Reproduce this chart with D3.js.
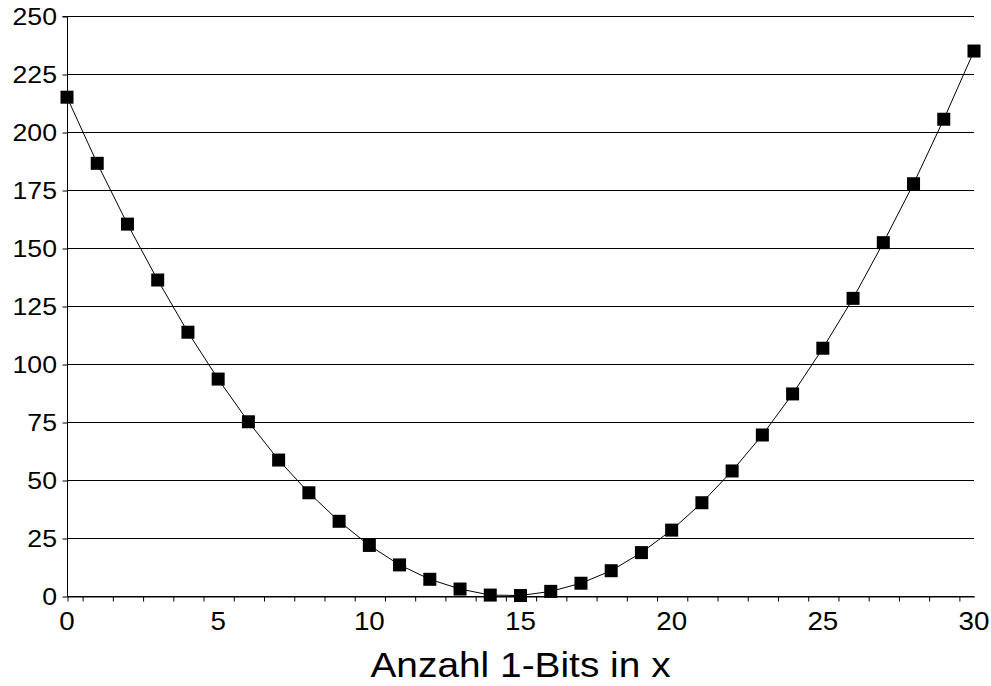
<!DOCTYPE html>
<html><head><meta charset="utf-8">
<script src="https://cdn.jsdelivr.net/npm/d3@7"></script>
<style>body{margin:0;background:#fff}svg{display:block}text{font-family:"Liberation Sans",Arial,sans-serif;fill:#000}</style>
</head><body>
<svg id="c" width="991" height="686"></svg>
<script>
const xValues = [0,1,2,3,4,5,6,7,8,9,10,11,12,13,14,15,16,17,18,19,20,21,22,23,24,25,26,27,28,29,30];
const yValues = [215.0,186.5,160.3,136.2,113.7,93.5,75.1,58.6,44.5,32.2,21.8,13.4,7.2,3.0,0.4,0.2,2.0,5.5,10.9,18.7,28.4,40.2,53.9,69.4,87.1,106.8,128.3,152.3,177.7,205.5,234.9];
const yTicks = [0,25,50,75,100,125,150,175,200,225,250];
const xLabelTicks = [0,5,10,15,20,25,30];
const xMinorTicks = [0,0.5,1.5,2.5,3.5,4.5,5.5,6.5,7.5,8.5,9.5,10.5,11.5,12.5,13.5,14.5,15.5,16.5,17.5,18.5,19.5,20.5,21.5,22.5,23.5,24.5,25.5,26.5,27.5,28.5,29.5];
const xTitle = "Anzahl 1-Bits in x";

const svg = d3.select("#c");
const x = d3.scaleLinear().domain([0,30]).range([67,974]);
const y = d3.scaleLinear().domain([0,250]).range([596,16]);
const sx = 1.11;

// gridlines
svg.append("g").selectAll("line").data(yTicks).join("line")
  .attr("x1",x(0)).attr("x2",x(30)).attr("y1",d=>y(d)+0.5).attr("y2",d=>y(d)+0.5)
  .attr("stroke","#000").attr("stroke-width",1);

// y axis
const ya = svg.append("g").attr("transform","translate(67.5,0.5)")
  .call(d3.axisLeft(y).tickValues(yTicks).tickSize(5).tickFormat(""));
ya.selectAll("path,line").attr("stroke","#000");
ya.select("path").attr("d",`M-5,${y(250)}H0V${y(0)}`);
svg.append("g").selectAll("text").data(yTicks).join("text")
  .attr("text-anchor","end").attr("font-size",24)
  .attr("transform",d=>`translate(57,${y(d)+9}) scale(${sx},1)`)
  .text(d=>d);

// x axis
const xa = svg.append("g").attr("transform",`translate(0.5,${y(0)+0.5})`)
  .call(d3.axisBottom(x).tickValues(xMinorTicks).tickSize(5).tickFormat("").tickSizeOuter(0));
xa.selectAll("path,line").attr("stroke","#000");
svg.append("g").selectAll("text").data(xLabelTicks).join("text")
  .attr("text-anchor","middle").attr("font-size",25)
  .attr("transform",d=>`translate(${x(d)},630) scale(${sx},1)`)
  .text(d=>d);

svg.append("text").attr("text-anchor","middle").attr("font-size",35)
  .attr("transform",`translate(${(x(0)+x(30))/2},677) scale(${sx},1)`)
  .text(xTitle);

// line
const pts = xValues.map((v,i)=>[v,yValues[i]]);
svg.append("path").datum(pts)
  .attr("d",d3.line().x(d=>x(d[0])).y(d=>y(d[1])))
  .attr("fill","none").attr("stroke","#000").attr("stroke-width",1);

// markers
const ms = 13;
svg.append("g").selectAll("rect").data(pts).join("rect")
  .attr("x",d=>x(d[0])-ms/2).attr("y",d=>y(d[1])-ms/2)
  .attr("width",ms).attr("height",ms).attr("fill","#000");
</script>
</body></html>
